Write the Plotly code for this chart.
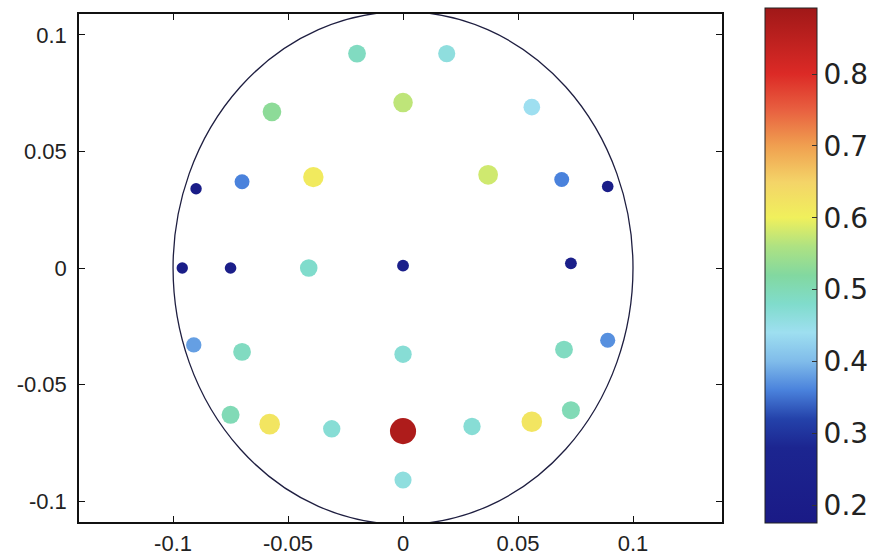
import plotly.graph_objects as go

# ---- data ----
x_vals = [-0.020, 0.019, -0.057, 0.000, 0.056,
          -0.090, -0.070, -0.039, 0.037, 0.069, 0.089,
          -0.096, -0.075, -0.041, 0.000, 0.073,
          -0.091, -0.070, 0.000, 0.070, 0.089,
          -0.075, -0.058, -0.031, 0.000, 0.030, 0.056, 0.073,
          0.000]
y_vals = [0.092, 0.092, 0.067, 0.071, 0.069,
          0.034, 0.037, 0.039, 0.040, 0.038, 0.035,
          0.000, 0.000, 0.000, 0.001, 0.002,
          -0.033, -0.036, -0.037, -0.035, -0.031,
          -0.063, -0.067, -0.069, -0.070, -0.068, -0.066, -0.061,
          -0.091]
values = [0.49, 0.46, 0.53, 0.57, 0.44,
          0.20, 0.36, 0.61, 0.58, 0.36, 0.21,
          0.20, 0.21, 0.48, 0.22, 0.22,
          0.38, 0.49, 0.47, 0.49, 0.37,
          0.50, 0.62, 0.47, 0.87, 0.47, 0.62, 0.50,
          0.46]
tick_vals = [-0.1, -0.05, 0, 0.05, 0.1]
tick_text = ["-0.1", "-0.05", "0", "0.05", "0.1"]
cbar_vals = [0.2, 0.3, 0.4, 0.5, 0.6, 0.7, 0.8]
cbar_text = ["0.2", "0.3", "0.4", "0.5", "0.6", "0.7", "0.8"]
c_min, c_max = 0.175, 0.892

colorscale = [
    [0.000, "#1a1a86"],
    [0.146, "#1c2590"],
    [0.202, "#2442aa"],
    [0.258, "#4a82dc"],
    [0.314, "#80bcea"],
    [0.370, "#9edff0"],
    [0.425, "#80dccc"],
    [0.481, "#82d8a0"],
    [0.537, "#aee282"],
    [0.593, "#f0f05c"],
    [0.662, "#f4d468"],
    [0.732, "#f0a050"],
    [0.802, "#e86040"],
    [0.872, "#dc2a26"],
    [1.000, "#a01818"],
]

sizes = [7 + 22 * v for v in values]

fig = go.Figure()
fig.add_trace(go.Scatter(
    x=x_vals, y=y_vals, mode="markers",
    marker=dict(
        color=values, colorscale=colorscale, cmin=c_min, cmax=c_max,
        size=sizes, opacity=1, line=dict(width=0),
        colorbar=dict(
            x=1.0669, xanchor="left", xpad=0, ypad=0,
            y=0.505, yanchor="middle",
            len=515, lenmode="pixels", thickness=52,
            outlinecolor="#222", outlinewidth=1,
            tickvals=cbar_vals, ticktext=cbar_text,
            ticks="inside", ticklen=5, tickcolor="#333",
            tickfont=dict(family="DejaVu Sans", size=28, color="#222"),
        ),
    ),
    showlegend=False, hoverinfo="skip",
))

fig.add_shape(type="circle", xref="x", yref="y",
              x0=-0.1, x1=0.1, y0=-0.11, y1=0.11,
              line=dict(color="#1e1e40", width=1.3), layer="below")

axis_common = dict(
    showgrid=False, zeroline=False, showline=True, linecolor="#111",
    linewidth=1.5, mirror="ticks", ticks="inside", ticklen=6,
    tickcolor="#111", tickwidth=1.2, automargin=False,
    tickfont=dict(family="Liberation Sans, Arial", size=22, color="#222"),
    tickvals=tick_vals, ticktext=tick_text,
)

fig.update_layout(
    width=877, height=559,
    margin=dict(l=79, r=155, t=14, b=37, autoexpand=False),
    paper_bgcolor="white", plot_bgcolor="white",
    xaxis=dict(range=[-0.1409, 0.1387], ticklabelstandoff=1, **axis_common),
    yaxis=dict(range=[-0.109, 0.109], ticklabelstandoff=6, **axis_common),
)

fig.write_html("out.html")
